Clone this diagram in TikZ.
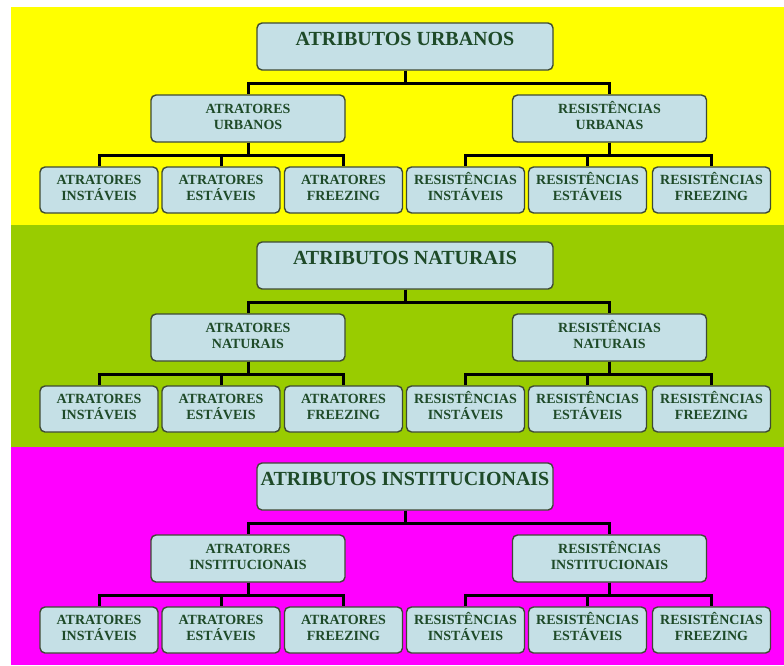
\documentclass[tikz,border=0pt]{standalone}
\usepackage{fontspec}
\setmainfont{Liberation Serif}
\definecolor{bandY}{HTML}{FFFF00}
\definecolor{bandG}{HTML}{99CC00}
\definecolor{bandM}{HTML}{FF00FF}
\definecolor{boxfill}{HTML}{C5E0E6}
\definecolor{boxline}{HTML}{3E4A34}
\definecolor{txt}{HTML}{1E4A28}
\tikzset{
  basebox/.style={draw=boxline, line width=1.4pt, fill=boxfill, rounded corners=5pt,
    text=txt, align=center, inner sep=1pt},
  topbox/.style={basebox, minimum width=296, minimum height=47, font=\bfseries\fontsize{20}{24}\selectfont, text height=0pt, text depth=3pt},
  midbox/.style={basebox, minimum width=194, minimum height=47, font=\bfseries\fontsize{14}{16}\selectfont, text height=22pt, text depth=0pt},
  lowbox/.style={basebox, minimum width=118, minimum height=46, font=\bfseries\fontsize{14}{16}\selectfont, text height=21pt, text depth=0pt},
  conn/.style={draw=black, line width=3pt}
}
\newcommand\band[5]{%
\begin{scope}[shift={(0,#1)}]
\node[topbox] (#2top) at (405,46.5) {#3};
\node[midbox] (#2ml) at (248,118.5) {ATRATORES\\#4};
\node[midbox] (#2mr) at (609.5,118.5) {RESISTÊNCIAS\\#5};
\node[lowbox] (#2a1) at (99,190) {ATRATORES\\INSTÁVEIS};
\node[lowbox] (#2a2) at (221,190) {ATRATORES\\ESTÁVEIS};
\node[lowbox] (#2a3) at (343.5,190) {ATRATORES\\FREEZING};
\node[lowbox] (#2r1) at (465.5,190) {RESISTÊNCIAS\\INSTÁVEIS};
\node[lowbox] (#2r2) at (587.5,190) {RESISTÊNCIAS\\ESTÁVEIS};
\node[lowbox] (#2r3) at (711.5,190) {RESISTÊNCIAS\\FREEZING};
\draw[conn] (#2top.south) -- ++(0,13) -| (#2ml.north);
\draw[conn] (#2top.south) -- ++(0,13) -| (#2mr.north);
\draw[conn] (#2ml.south) -- ++(0,13) -| (#2a1.north);
\draw[conn] (#2ml.south) -- ++(0,13) -| (#2a2.north);
\draw[conn] (#2ml.south) -- ++(0,13) -| (#2a3.north);
\draw[conn] (#2mr.south) -- ++(0,13) -| (#2r1.north);
\draw[conn] (#2mr.south) -- ++(0,13) -| (#2r2.north);
\draw[conn] (#2mr.south) -- ++(0,13) -| (#2r3.north);
\end{scope}}
\begin{document}
\begin{tikzpicture}[x=1pt,y=-1pt]
\useasboundingbox (0,0) rectangle (784,665);
\fill[white] (0,0) rectangle (784,665);
\fill[bandY] (11,7) rectangle (784,225);
\fill[bandG] (11,225) rectangle (784,447);
\fill[bandM] (11,447) rectangle (784,665);
\band{0}{u}{ATRIBUTOS URBANOS}{URBANOS}{URBANAS}
\band{219}{n}{ATRIBUTOS NATURAIS}{NATURAIS}{NATURAIS}
\band{440}{i}{ATRIBUTOS INSTITUCIONAIS}{INSTITUCIONAIS}{INSTITUCIONAIS}
\end{tikzpicture}
\end{document}
